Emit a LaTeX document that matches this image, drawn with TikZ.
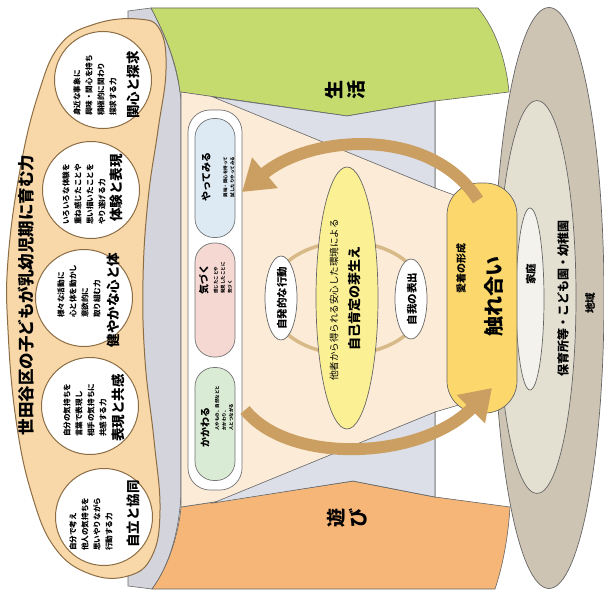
\documentclass[tikz,border=0pt]{standalone}
\usepackage{fontspec}
\setmainfont{Noto Sans CJK JP}
\usetikzlibrary{shapes.geometric,arrows.meta}
\definecolor{tanfill}{HTML}{F8D8A8}
\definecolor{tanline}{HTML}{8C6D44}
\definecolor{leaf}{HTML}{C6DB6E}
\definecolor{peach}{HTML}{F5B678}
\definecolor{cream}{HTML}{FCEBD7}
\definecolor{mist}{HTML}{DCDFE7}
\definecolor{rim}{HTML}{D4D4DC}
\definecolor{land}{HTML}{CDC4B4}
\definecolor{school}{HTML}{E3E0D2}
\definecolor{home}{HTML}{F3F2EC}
\definecolor{gold}{HTML}{FCD86C}
\definecolor{lemon}{HTML}{FBF094}
\definecolor{arrowbrown}{HTML}{CB9F62}
\definecolor{ringtan}{HTML}{D8BA88}
\definecolor{skyfill}{HTML}{DDEAF4}
\definecolor{rosefill}{HTML}{F6D8D3}
\definecolor{mintfill}{HTML}{DAEBD5}

\tikzset{
  band/.style={draw=black!60, line width=0.6pt},
  oval/.style={ellipse, draw=black!60, line width=0.7pt, inner sep=0pt},
  circ/.style={circle, draw=tanline, line width=1pt, fill=white, minimum size=97pt, inner sep=0pt},
  vtext/.style={rotate=90, align=center, inner sep=0pt},
  body/.style={rotate=90, align=left, anchor=west, inner sep=0pt, font=\fontsize{7.6}{12}\selectfont\bfseries},
  head/.style={vtext, font=\fontsize{13.5}{15}\selectfont\bfseries},
  note/.style={rotate=90, align=left, inner sep=0pt, font=\fontsize{4.5}{7}\selectfont\bfseries},
  pillbox/.style={draw=black!55, line width=0.7pt, rounded corners=19pt, minimum width=40pt},
  bigarrow/.style={draw=arrowbrown, line width=12pt, -{Triangle[length=30pt,width=38pt]}},
}

\begin{document}
\begin{tikzpicture}[x=1pt,y=-1pt]
\useasboundingbox[fill=white] (0,0) rectangle (604,591);

% 地域・保育所等・家庭
\node[oval, fill=land, minimum width=110, minimum height=581] (chiiki) at (549,298) {};
\node[oval, fill=school, minimum width=78, minimum height=393] (hoiku) at (537,297) {};
\node[oval, fill=home, minimum width=28, minimum height=182] (katei) at (530,299) {};
\node[vtext, font=\fontsize{10.5}{12}\selectfont\bfseries] (chiiki-t) at (590,303) {地域};
\node[vtext, font=\fontsize{12}{14}\selectfont\bfseries] (hoiku-t) at (563,298) {保育所等・こども園・幼稚園};
\node[vtext, font=\fontsize{10.5}{12}\selectfont\bfseries] (katei-t) at (531,274) {家庭};

% funnel
\filldraw[band, fill=rim] (128,11) -- (151,8) .. controls (168,40) and (178,70) .. (181,100)
  -- (181,495) .. controls (179,530) and (170,565) .. (152,589) -- (128,586) -- cycle;
\filldraw[band, fill=leaf] (151,8) -- (478,8) .. controls (496,30) and (506,60) .. (509,92)
  -- (435,101) -- (347,116) -- (180,92) .. controls (177,65) and (167,38) .. cycle;
\filldraw[band, fill=peach] (181,507) -- (353,481) -- (435,497) -- (510,507)
  .. controls (508,540) and (502,568) .. (495,589) -- (152,589) .. controls (170,565) and (179,530) .. cycle;
\filldraw[band, fill=cream] (181,92) -- (347,116) -- (435,101) -- (435,188) -- (462,198)
  -- (462,404) -- (435,412) -- (435,497) -- (353,481) -- (181,507) -- cycle;
\filldraw[band, fill=mist] (213,97) -- (347,116) -- (435,101) -- (435,188) -- cycle;
\filldraw[band, fill=mist] (213,503) -- (435,412) -- (435,497) -- (353,481) -- cycle;

% 育む力
\filldraw[draw=tanline, line width=1pt, fill=tanfill] plot[smooth cycle, tension=0.7] coordinates
  {(138,19) (95,24) (60,45) (38,95) (20,170) (8,260) (8,330) (16,420) (32,495) (55,548) (90,574)
   (128,576) (152,556) (160,510) (154,440) (145,360) (143,280) (148,200) (158,130) (166,70) (160,30)};
\node[vtext, font=\fontsize{16.5}{18}\selectfont\bfseries] (title) at (26,295) {世田谷区の子どもが乳幼児期に育む力};

\node[circ] (c1) at (103,80) {};
\node[circ] (c2) at (91,190) {};
\node[circ] (c3) at (84,298) {};
\node[circ] (c4) at (90,406) {};
\node[circ] (c5) at (104,517) {};

\node[body] (c1-b) at (95,116) {身近な事象に\\興味・関心を持ち\\積極的に関わり\\探求する力};
\node[head] (c1-h) at (133,85) {関心と探求};
\node[body] (c2-b) at (84,225) {いろいろな体験を\\重ね感じたことや\\思い描いたことを\\やり遂げる力};
\node[head] (c2-h) at (116,188) {体験と表現};
\node[body] (c3-b) at (79,318) {様々な活動に\\心と体を動かし\\意欲的に\\取り組む力};
\node[head] (c3-h) at (113,300) {健やかな心と体};
\node[body] (c4-b) at (85,437) {自分の気持ちを\\言葉で表現し\\相手の気持ちに\\共感する力};
\node[head] (c4-h) at (118,408) {表現と共感};
\node[body] (c5-b) at (91,551) {自分で考え\\他人の気持ちを\\思いやりながら\\行動する力};
\node[head] (c5-h) at (133,514) {自立と協同};

% かかわる・気づく・やってみる
\node[draw=black!55, line width=0.7pt, fill=white, rounded corners=22pt,
  minimum width=54pt, minimum height=380pt] (grp) at (215,300) {};
\node[pillbox, fill=skyfill, minimum height=119pt] (yatte) at (215,178) {};
\node[pillbox, fill=rosefill, minimum height=114pt] (kizuku) at (215,300) {};
\node[pillbox, fill=mintfill, minimum height=113pt] (kakawaru) at (215,424) {};
\node[vtext, font=\fontsize{10}{11}\selectfont\bfseries] (yatte-t) at (206,177) {やってみる};
\node[note] (yatte-b) at (229,177) {興味・関心を持って\\試したりやってみる};
\node[vtext, font=\fontsize{10}{11}\selectfont\bfseries] (kizuku-t) at (204,279) {気づく};
\node[note] (kizuku-b) at (223,278) {感じたことや\\発見したことに\\気づく};
\node[vtext, font=\fontsize{10}{11}\selectfont\bfseries] (kakawaru-t) at (205,427) {かかわる};
\node[note] (kakawaru-b) at (224,408) {人やもの、自然などと\\かかわり、\\人とつながる};

% 自己肯定の芽生え
\draw[draw=ringtan, line width=3.5pt] (347,298) ellipse [x radius=78, y radius=56];
\node[oval, fill=lemon, minimum width=62, minimum height=262] (jiko) at (347,298) {};
\node[oval, fill=white, minimum width=32, minimum height=84] (jihatsu) at (281,298) {};
\node[oval, fill=white, minimum width=32, minimum height=80] (jiga) at (411,299) {};
\node[vtext, font=\fontsize{9.5}{11}\selectfont] (jiko-s) at (334,300) {他者から得られる安心した環境による};
\node[vtext, font=\fontsize{13}{14}\selectfont\bfseries] (jiko-t) at (355,298) {自己肯定の芽生え};
\node[vtext, font=\fontsize{10.5}{12}\selectfont\bfseries] (jihatsu-t) at (282,298) {自発的な行動};
\node[vtext, font=\fontsize{10.5}{12}\selectfont\bfseries] (jiga-t) at (412,299) {自我の表出};

% 触れ合い
\node[draw=black!60, line width=0.7pt, fill=gold, rounded corners=32pt,
  minimum width=70pt, minimum height=230pt] (fure) at (482,298) {};
\node[vtext, font=\fontsize{10}{11}\selectfont\bfseries] (aichaku) at (461,268) {愛着の形成};
\node[vtext, font=\fontsize{20}{22}\selectfont\bfseries] (fure-t) at (494,296) {触れ合い};

% arrows
\coordinate (up-s) at (478,200);
\coordinate (up-e) at (242,192);
\coordinate (lo-s) at (245,410);
\coordinate (lo-e) at (492,388);
\draw[bigarrow] (up-s) .. controls (430,125) and (310,135) .. (up-e);
\draw[bigarrow] (lo-s) .. controls (290,465) and (420,460) .. (lo-e);

\node[vtext, font=\fontsize{19}{22}\selectfont\bfseries] (seikatsu) at (345,90) {生\\活};
\node[vtext, font=\fontsize{19}{22}\selectfont\bfseries] (asobi) at (347,518) {遊\\び};
\end{tikzpicture}
\end{document}
